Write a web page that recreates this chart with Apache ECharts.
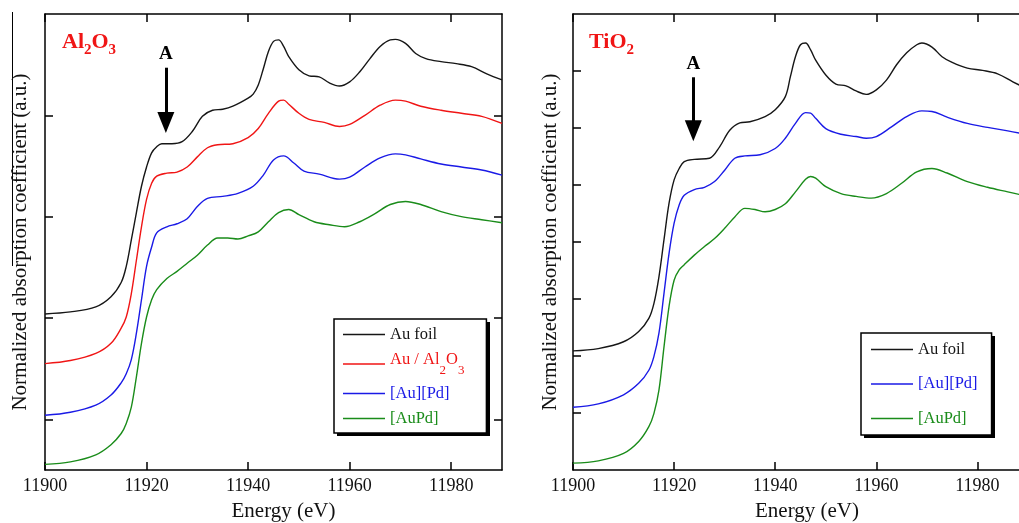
<!DOCTYPE html>
<html>
<head>
<meta charset="utf-8">
<script src="https://cdn.jsdelivr.net/npm/echarts@6/dist/echarts.min.js"></script>
<style>
  html, body { margin: 0; padding: 0; background: #fff; }
  #chart { width: 1019px; height: 523px; }
</style>
</head>
<body>
<div id="chart"></div>
<script>
// --- data (energy eV, normalized mu offset per curve) ---
const energyTicks = [11900, 11920, 11940, 11960, 11980];
const alTicks = [0.5, 1.5, 2.5, 3.5];
const tiTicks = [1, 2, 3, 4, 5, 6, 7];

const alAuFoil = [[11900,1.54],[11905,1.56],[11910,1.61],[11913,1.71],[11915,1.85],[11916,2.01],[11917,2.27],[11918,2.54],[11919,2.80],[11920,2.99],[11921,3.13],[11922,3.19],[11923,3.22],[11925,3.22],[11927,3.24],[11929,3.34],[11931,3.49],[11933,3.55],[11935,3.56],[11937,3.59],[11940,3.67],[11941,3.71],[11942,3.80],[11943,3.96],[11944,4.13],[11945,4.23],[11946,4.245],[11947,4.18],[11948,4.08],[11950,3.95],[11952,3.89],[11954,3.88],[11956,3.82],[11958,3.79],[11960,3.83],[11962,3.93],[11964,4.06],[11966,4.18],[11968,4.245],[11969,4.25],[11971,4.21],[11973,4.11],[11975,4.06],[11978,4.03],[11981,4.01],[11984,3.98],[11987,3.91],[11990,3.85]];
const alAuAl2O3 = [[11900,1.05],[11905,1.08],[11910,1.15],[11913,1.25],[11915,1.40],[11916,1.51],[11917,1.74],[11918,2.07],[11919,2.40],[11920,2.67],[11921,2.83],[11922,2.90],[11924,2.93],[11926,2.94],[11928,2.99],[11930,3.09],[11932,3.18],[11934,3.21],[11937,3.22],[11940,3.28],[11942,3.37],[11944,3.52],[11946,3.64],[11947,3.65],[11948,3.61],[11950,3.52],[11952,3.46],[11955,3.43],[11958,3.39],[11960,3.41],[11963,3.50],[11966,3.60],[11969,3.65],[11971,3.64],[11974,3.59],[11978,3.55],[11982,3.52],[11986,3.49],[11990,3.42]];
const alAuPd = [[11900,0.54],[11905,0.57],[11910,0.64],[11913,0.74],[11915,0.86],[11916,0.95],[11917,1.09],[11918,1.35],[11919,1.68],[11920,2.01],[11921,2.20],[11922,2.34],[11924,2.40],[11926,2.43],[11928,2.48],[11930,2.60],[11932,2.68],[11935,2.70],[11938,2.73],[11941,2.80],[11943,2.91],[11945,3.06],[11947,3.10],[11949,3.03],[11951,2.95],[11954,2.92],[11958,2.87],[11960,2.89],[11963,2.99],[11966,3.08],[11969,3.12],[11971,3.11],[11974,3.07],[11978,3.02],[11982,2.99],[11986,2.96],[11990,2.91]];
const alAuPdAlloy = [[11900,0.056],[11905,0.08],[11910,0.15],[11913,0.25],[11915,0.36],[11916,0.46],[11917,0.62],[11918,0.92],[11919,1.25],[11920,1.51],[11921,1.68],[11922,1.78],[11924,1.89],[11926,1.96],[11928,2.04],[11930,2.12],[11932,2.22],[11934,2.29],[11936,2.29],[11938,2.28],[11940,2.31],[11942,2.35],[11944,2.45],[11946,2.54],[11948,2.57],[11950,2.52],[11953,2.45],[11956,2.42],[11959,2.40],[11962,2.45],[11965,2.53],[11968,2.62],[11971,2.65],[11974,2.62],[11978,2.55],[11982,2.50],[11986,2.47],[11990,2.44]];

const tiAuFoil = [[11900,2.09],[11905,2.13],[11910,2.25],[11913,2.43],[11915,2.66],[11916,2.92],[11917,3.39],[11918,4.04],[11919,4.68],[11920,5.09],[11921,5.29],[11922,5.41],[11924,5.45],[11927,5.47],[11929,5.67],[11931,5.96],[11933,6.09],[11935,6.11],[11938,6.20],[11940,6.32],[11942,6.55],[11943,6.90],[11944,7.25],[11945,7.46],[11946,7.49],[11947,7.37],[11948,7.19],[11950,6.93],[11952,6.77],[11954,6.74],[11956,6.65],[11958,6.59],[11960,6.67],[11962,6.84],[11964,7.11],[11966,7.32],[11968,7.46],[11969,7.49],[11971,7.42],[11973,7.25],[11975,7.15],[11978,7.05],[11981,7.01],[11984,6.95],[11987,6.81],[11990,6.68]];
const tiAuPd = [[11900,1.10],[11905,1.16],[11910,1.32],[11913,1.52],[11915,1.75],[11916,1.99],[11917,2.40],[11918,3.10],[11919,3.80],[11920,4.33],[11921,4.65],[11922,4.82],[11924,4.92],[11926,4.96],[11928,5.06],[11930,5.26],[11932,5.47],[11934,5.51],[11937,5.53],[11940,5.64],[11942,5.82],[11944,6.08],[11946,6.27],[11947,6.26],[11948,6.17],[11950,5.99],[11953,5.89],[11956,5.85],[11958,5.82],[11960,5.85],[11963,6.02],[11966,6.20],[11969,6.30],[11971,6.29],[11974,6.19],[11978,6.08],[11982,6.01],[11986,5.95],[11990,5.88]];
const tiAuPdAlloy = [[11900,0.12],[11905,0.16],[11910,0.29],[11913,0.50],[11915,0.76],[11916,0.99],[11917,1.40],[11918,2.16],[11919,2.87],[11920,3.33],[11921,3.51],[11922,3.60],[11924,3.77],[11926,3.92],[11928,4.06],[11930,4.24],[11932,4.44],[11934,4.59],[11936,4.57],[11938,4.53],[11940,4.57],[11942,4.67],[11944,4.88],[11946,5.10],[11947,5.15],[11948,5.12],[11950,4.97],[11953,4.85],[11956,4.80],[11959,4.77],[11962,4.85],[11965,5.03],[11968,5.23],[11971,5.29],[11974,5.21],[11978,5.06],[11982,4.96],[11986,4.88],[11990,4.80]];

// arrow "A": energy, start value, head value (per panel)
const arrowEnergy = 11923.8;
const alArrow = [3.97, 3.43];
const tiArrow = [6.89, 5.95];

const FONT = "'Liberation Serif', 'Times New Roman', serif";
const BLACK = "#161616", RED = "#f01515", BLUE = "#1a1ae6", GREEN = "#1a8c1a";
const AXIS_STYLE = { color: "#000", width: 1.5 };

function xAxes(grid, namePad) {
  const base = {
    gridIndex: grid, type: "value", min: 11900, max: 11990,
    axisLine: { show: true, onZero: false, lineStyle: AXIS_STYLE },
    axisTick: { show: true, inside: true, length: 8, customValues: energyTicks, lineStyle: AXIS_STYLE },
    splitLine: { show: false }
  };
  return [
    Object.assign({}, base, {
      position: "bottom",
      axisLabel: { customValues: energyTicks, formatter: (v) => String(v), margin: 7,
        fontFamily: FONT, fontSize: 18, color: "#111" },
      name: "Energy (eV)", nameLocation: "middle", nameGap: 31,
      nameTextStyle: { fontFamily: FONT, fontSize: 21, color: "#111", padding: [0, 0, 0, namePad] }
    }),
    Object.assign({}, base, { position: "top", axisLabel: { show: false } })
  ];
}

function yAxes(grid, max, ticks, gap) {
  const base = {
    gridIndex: grid, type: "value", min: 0, max: max,
    axisLine: { show: true, onZero: false, lineStyle: AXIS_STYLE },
    axisTick: { show: true, inside: true, length: 8, customValues: ticks, lineStyle: AXIS_STYLE },
    axisLabel: { show: false },
    splitLine: { show: false }
  };
  return [
    Object.assign({}, base, {
      position: "left",
      name: "Normalized absorption coefficient (a.u.)", nameLocation: "middle", nameGap: gap,
      nameTextStyle: { fontFamily: FONT, fontSize: 21, color: "#111" }
    }),
    Object.assign({}, base, { position: "right" })
  ];
}

function line(name, data, color, xi, yi) {
  return {
    name: name, type: "line", data: data, xAxisIndex: xi, yAxisIndex: yi,
    smooth: 0.35, symbol: "none", color: color,
    lineStyle: { color: color, width: 1.4 }, animation: false
  };
}

function arrow(pair) {
  return {
    silent: true, animation: false,
    symbol: ["none", "triangle"], symbolSize: [0, 18],
    lineStyle: { color: "#000", width: 3, type: "solid" },
    label: { show: true, position: "start", formatter: "A", distance: 4,
      fontFamily: FONT, fontWeight: "bold", fontSize: 19, color: "#000" },
    emphasis: { disabled: true },
    data: [[{ coord: [arrowEnergy, pair[0]] }, { coord: [arrowEnergy, pair[1]], symbolSize: [17, 21] }]]
  };
}

function legendBox(left, top, names, colors, padding, gap) {
  return {
    orient: "vertical", left: left, top: top, padding: padding, itemGap: gap, z: 6,
    icon: "rect", itemWidth: 42, itemHeight: 1.6,
    backgroundColor: "#fff", borderColor: "#000", borderWidth: 1.5, borderRadius: 0,
    data: names.map((n, i) => ({ name: n, textStyle: { color: colors[i] } })),
    formatter: (n) => n === "Au / Al2O3" ? "{m|Au / Al}{s|2}{m|O}{s|3}" : n,
    textStyle: {
      fontFamily: FONT, fontSize: 16.5,
      rich: {
        m: { fontFamily: FONT, fontSize: 16.5, color: RED, verticalAlign: "top" },
        s: { fontFamily: FONT, fontSize: 13, color: RED, verticalAlign: "top", padding: [13, 0, 0, 0] }
      }
    },
    selectedMode: false
  };
}

// hard drop shadow behind each legend box
function legendShadow(x, y, w, h) {
  return { type: "rect", z: 5, shape: { x: x + 3, y: y + 3, width: w, height: h }, style: { fill: "#000" }, silent: true };
}

function panelTitle(left, text) {
  return {
    left: left, top: 26, text: text,
    textStyle: {
      rich: {
        m: { fontFamily: FONT, fontWeight: "bold", fontSize: 22, color: RED, verticalAlign: "top" },
        s: { fontFamily: FONT, fontWeight: "bold", fontSize: 15, color: RED, verticalAlign: "top", padding: [12, 0, 0, 0] }
      }
    }
  };
}

const chart = echarts.init(document.getElementById("chart"), null, { renderer: "canvas" });

const alSeries = [
  line("Au foil", alAuFoil, BLACK, 0, 0),
  line("Au / Al2O3", alAuAl2O3, RED, 0, 0),
  line("[Au][Pd]", alAuPd, BLUE, 0, 0),
  line("[AuPd]", alAuPdAlloy, GREEN, 0, 0)
];
alSeries[0].markLine = arrow(alArrow);

const tiSeries = [
  line("Au foil", tiAuFoil, BLACK, 2, 2),
  line("[Au][Pd]", tiAuPd, BLUE, 2, 2),
  line("[AuPd]", tiAuPdAlloy, GREEN, 2, 2)
];
tiSeries[0].markLine = arrow(tiArrow);

chart.setOption({
  backgroundColor: "#fff",
  animation: false,
  title: [
    panelTitle(57, "{m|Al}{s|2}{m|O}{s|3}"),
    panelTitle(584, "{m|TiO}{s|2}")
  ],
  grid: [
    { left: 45, top: 14, width: 457, height: 456, outerBoundsMode: "none" },
    { left: 573, top: 14, width: 455, height: 456, outerBoundsMode: "none" }
  ],
  xAxis: xAxes(0, 20).concat(xAxes(1, 13)),
  yAxis: yAxes(0, 4.5, alTicks, 14).concat(yAxes(1, 8, tiTicks, 12)),
  legend: [
    legendBox(334, 319, ["Au foil", "Au / Al2O3", "[Au][Pd]", "[AuPd]"], [BLACK, RED, BLUE, GREEN], [7, 22, 6, 9], 8),
    legendBox(861, 333, ["Au foil", "[Au][Pd]", "[AuPd]"], [BLACK, BLUE, GREEN], [8, 14, 8, 10], 17.5)
  ],
  graphic: [
    { type: "line", shape: { x1: 12.5, y1: 12, x2: 12.5, y2: 266 }, style: { stroke: "#000", lineWidth: 1 } },
    legendShadow(334, 319, 153, 114),
    legendShadow(861, 333, 131, 102)
  ],
  series: alSeries.concat(tiSeries)
});

window.addEventListener("resize", () => chart.resize());
</script>
</body>
</html>
